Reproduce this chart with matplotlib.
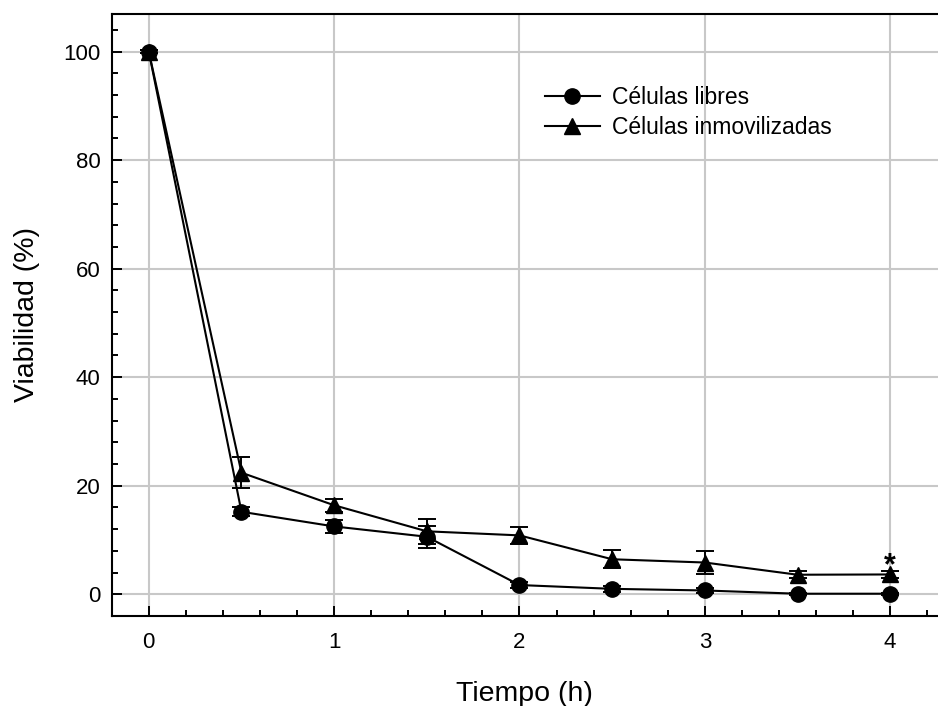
import matplotlib
matplotlib.use("Agg")
import matplotlib.pyplot as plt
from matplotlib.ticker import MultipleLocator

plt.rcParams['font.family'] = ['Liberation Sans', 'DejaVu Sans']

# tiempo (h)
tiempo = [0, 0.5, 1, 1.5, 2, 2.5, 3, 3.5, 4]

# viabilidad (%) de celulas libres
libres = [100, 15.2, 12.5, 10.6, 1.7, 1.0, 0.7, 0.1, 0.1]
libres_err = [0.3, 0.8, 1.2, 2.0, 0.5, 0.5, 0.4, 0.2, 0.2]

# viabilidad (%) de celulas inmovilizadas
inmov = [100, 22.4, 16.4, 11.6, 10.85, 6.45, 5.85, 3.6, 3.65]
inmov_err = [0.3, 2.9, 1.2, 2.3, 1.55, 1.65, 2.05, 0.6, 0.6]

fig = plt.figure(figsize=(9.38, 7.06), dpi=100)
ax = fig.add_axes([0.1191, 0.1279, 1 - 0.1191, 0.980 - 0.1279])

ax.grid(True, color='#c8c8c8', linewidth=1.5, zorder=0)
ax.set_axisbelow(True)

h1 = ax.errorbar(tiempo, libres, yerr=libres_err, color='black', marker='o', markersize=11,
                 linewidth=1.5, elinewidth=1.4, capsize=6.5, capthick=1.4, zorder=3)
h2 = ax.errorbar(tiempo, inmov, yerr=inmov_err, color='black', marker='^', markersize=11,
                 linewidth=1.5, elinewidth=1.4, capsize=6.5, capthick=1.4, zorder=3)

# asterisco de significancia en t = 4 h
ax.text(tiempo[-1], inmov[-1], '*', ha='center', va='baseline',
        fontsize=22, fontweight='bold')

ax.set_xlim(-0.2, 4.258)
ax.set_ylim(-3.95, 106.9)
ax.xaxis.set_major_locator(MultipleLocator(1))
ax.xaxis.set_minor_locator(MultipleLocator(0.2))
ax.yaxis.set_major_locator(MultipleLocator(20))
ax.yaxis.set_minor_locator(MultipleLocator(4))

ax.tick_params(which='both', direction='in', top=False, right=False, width=1.4)
ax.tick_params(axis='x', which='major', length=7, pad=12, labelsize=16)
ax.tick_params(axis='y', which='major', length=7, pad=8, labelsize=16)
ax.tick_params(which='minor', length=4.5)

for s in ['left', 'bottom', 'top']:
    ax.spines[s].set_linewidth(1.5)
ax.spines['right'].set_visible(False)

ax.set_xlabel('Tiempo (h)', fontsize=20.5, labelpad=20)
ax.set_ylabel('Viabilidad (%)', fontsize=20.5, labelpad=17)

ax.legend([h1.lines[0], h2.lines[0]], ['Células libres', 'Células inmovilizadas'],
          loc='center left', bbox_to_anchor=(0.524, 0.837), frameon=False,
          fontsize=16.5, handlelength=2.4, handletextpad=0.55,
          labelspacing=0.3, borderpad=0, borderaxespad=0)

fig.savefig('out.png', dpi=100)
